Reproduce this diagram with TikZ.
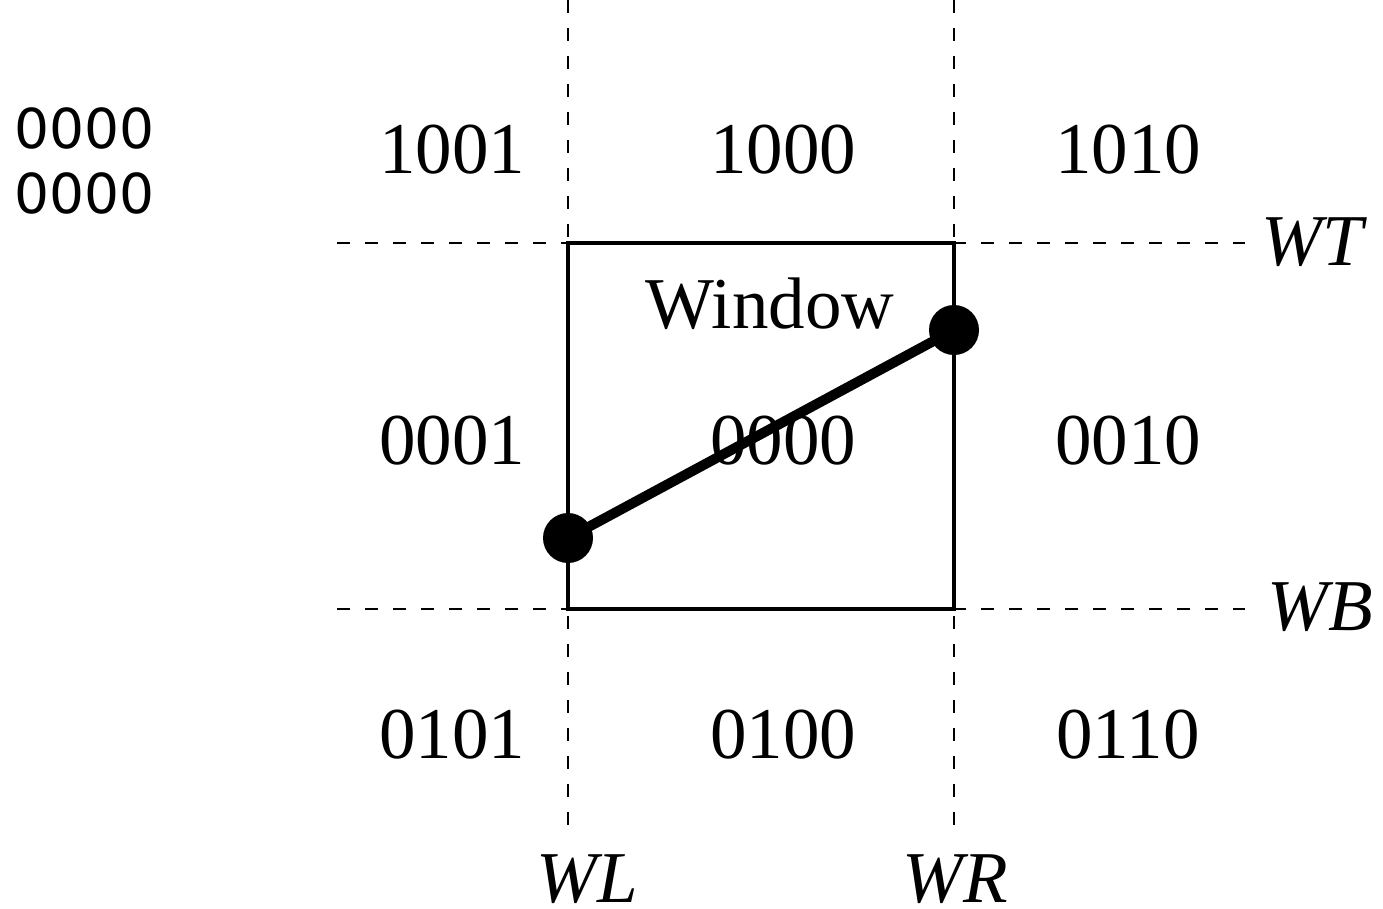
\documentclass[tikz,border=0pt]{standalone}
\usepackage{fontspec}
\setmainfont{Liberation Serif}
\newfontfamily\sansf{DejaVu Sans}
\begin{document}
\begin{tikzpicture}[x=1pt,y=-1pt,
  grid/.style={line width=1.5pt, dash pattern=on 13pt off 15pt},
  code/.style={inner sep=0pt, anchor=base, font=\fontsize{73}{84}\selectfont},
  edge/.style={inner sep=0pt, anchor=base, font=\fontsize{73}{84}\selectfont\itshape},
  topcode/.style={inner sep=0pt, font=\sansf\fontsize{55}{65}\selectfont, align=left},
  win/.style={draw, line width=3.5pt},
  seg/.style={line width=10pt},
  dot/.style={circle, fill=black, minimum size=50pt, inner sep=0pt}]
\useasboundingbox (0,0) rectangle (1383,908);
% boundary lines
\coordinate (vLt) at (568,0);
\coordinate (vLb) at (568,832);
\coordinate (vRt) at (954,0);
\coordinate (vRb) at (954,832);
\coordinate (hTl) at (337,243);
\coordinate (hTr) at (1245,243);
\coordinate (hBl) at (337,609);
\coordinate (hBr) at (1245,609);
\draw[grid] (vLt) -- (vLb);
\draw[grid] (vRt) -- (vRb);
\draw[grid] (hTl) -- (hTr);
\draw[grid] (hBl) -- (hBr);
% window
\draw[win] (568,243) rectangle (954,609);
% region codes
\node[code] (c1001) at (452,173) {1001};
\node[code] (c1000) at (783,173) {1000};
\node[code] (c1010) at (1128,173) {1010};
\node[code] (c0001) at (452,464) {0001};
\node[code] (c0000) at (783,464) {0000};
\node[code] (c0010) at (1128,464) {0010};
\node[code] (c0101) at (452,758) {0101};
\node[code] (c0100) at (783,758) {0100};
\node[code] (c0110) at (1128,758) {0110};
\node[code] (window) at (770,328) {Window};
% edge labels
\node[edge] (WT) at (1312,265) {WT};
\node[edge] (WB) at (1320,630) {WB};
\node[edge] (WL) at (587,902) {WL};
\node[edge] (WR) at (955,902) {WR};
% top-left codes
\node[topcode, anchor=north west] (tl) at (14,107) {0000\\0000};
% clipped segment
\node[dot] (p1) at (568,538) {};
\node[dot] (p2) at (954,330) {};
\draw[seg] (p1.center) -- (p2.center);
\end{tikzpicture}
\end{document}
